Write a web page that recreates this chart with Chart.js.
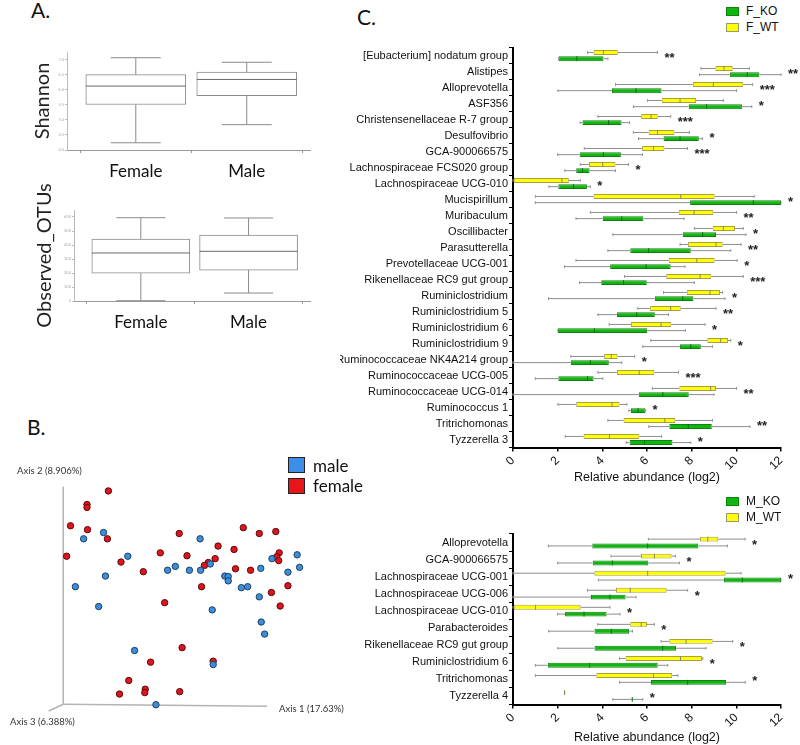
<!DOCTYPE html>
<html>
<head>
<meta charset="utf-8">
<script src="https://cdn.jsdelivr.net/npm/chart.js@4"></script>
<style>
body{margin:0;width:800px;height:745px;position:relative;background:#fff;overflow:hidden;font-family:Lato,sans-serif}
canvas{position:absolute}
.t{position:absolute;white-space:nowrap;line-height:1;color:#111}
.sq{position:absolute;box-sizing:border-box}
.c{font-family:"Liberation Sans",Arial,sans-serif;font-size:12px}
</style>
</head>
<body>
<div class="t" style="left:31px;top:-1px;font-size:21px">A.</div>
<div class="t" style="left:27px;top:416px;font-size:21px">B.</div>
<div class="t" style="left:357px;top:6px;font-size:21px">C.</div>

<canvas id="shannon" width="320" height="145" style="left:0;top:40px"></canvas>
<canvas id="otus" width="320" height="157" style="left:0;top:178px"></canvas>
<canvas id="pcoa" width="340" height="305" style="left:0;top:440px"></canvas>
<canvas id="female" width="460" height="449" style="left:340px;top:40px"></canvas>
<canvas id="male" width="460" height="225" style="left:340px;top:520px"></canvas>

<div class="t" style="left:17px;top:466px;font-size:9.5px;color:#333">Axis 2 (8.906%)</div>
<div class="t" style="left:279px;top:704px;font-size:9.5px;color:#333">Axis 1 (17.63%)</div>
<div class="t" style="left:10px;top:717px;font-size:9.5px;color:#333">Axis 3 (6.388%)</div>
<div class="sq" style="left:288px;top:457px;width:17px;height:16px;background:#3c8ee6;border:1.5px solid #222"></div>
<div class="sq" style="left:288px;top:478px;width:17px;height:16px;background:#e8161b;border:1.5px solid #222"></div>
<div class="t" style="left:313px;top:457px;font-size:17px">male</div>
<div class="t" style="left:313px;top:477px;font-size:17px">female</div>

<div class="sq" style="left:726px;top:7px;width:13px;height:9px;background:#10b510;border:1px solid #0b860b"></div>
<div class="sq" style="left:726px;top:23px;width:13px;height:9px;background:#ffff00;border:1px solid #9a9a6a"></div>
<div class="t c" style="left:746px;top:5px">F_KO</div>
<div class="t c" style="left:746px;top:21px">F_WT</div>
<div class="sq" style="left:726px;top:497px;width:13px;height:9px;background:#10b510;border:1px solid #0b860b"></div>
<div class="sq" style="left:726px;top:513px;width:13px;height:9px;background:#ffff00;border:1px solid #9a9a6a"></div>
<div class="t c" style="left:746px;top:495px">M_KO</div>
<div class="t c" style="left:746px;top:511px">M_WT</div>

<script>
// A. alpha diversity: [whisker min, q1, median, q3, whisker max]
var groups = ['Female', 'Male']
var shannon = [[4.24, 5.51, 6.12, 6.50, 7.06], [4.84, 5.80, 6.34, 6.58, 6.91]]
var otus = [[2, 198, 343, 443, 595], [57, 221, 355, 471, 593]]

// B. PCoA coordinates [axis 1, axis 2]
var male = [[0.083,0.355],[0.042,0.342],[0.133,0.306],[0.087,0.265],[0.025,0.243],[0.073,0.202],
  [0.282,0.342],[0.231,0.285],[0.215,0.277],[0.260,0.277],[0.283,0.277],[0.303,0.290],[0.333,0.265],
  [0.340,0.264],[0.340,0.255],[0.367,0.241],[0.380,0.243],[0.404,0.222],[0.407,0.281],[0.430,0.301],
  [0.463,0.273],[0.482,0.309],[0.487,0.283],[0.307,0.195],[0.408,0.170],[0.415,0.145],[0.147,0.111],
  [0.309,0.082],[0.191,-0.001]]
var female = [[0.093,0.441],[0.049,0.413],[0.049,0.407],[0.015,0.369],[0.050,0.361],[0.091,0.342],
  [0.007,0.306],[0.119,0.294],[0.165,0.274],[0.239,0.353],[0.200,0.313],[0.255,0.307],[0.319,0.327],
  [0.313,0.301],[0.299,0.293],[0.291,0.287],[0.285,0.243],[0.209,0.210],[0.371,0.365],[0.352,0.320],
  [0.355,0.280],[0.386,0.277],[0.404,0.353],[0.438,0.357],[0.445,0.313],[0.440,0.305],[0.444,0.297],
  [0.463,0.245],[0.429,0.231],[0.447,0.203],[0.245,0.117],[0.180,0.087],[0.309,0.089],[0.135,0.049],
  [0.116,0.021],[0.169,0.031],[0.168,0.024],[0.240,0.026]]
var axisEnds = [[0.42, -0.004], [0, 0.45], [-0.03, -0.014]]

// C. relative abundance (log2): [whisker min, q1, median, q3, whisker max]
var fCats = ['[Eubacterium] nodatum group','Alistipes','Alloprevotella','ASF356','Christensenellaceae R-7 group',
  'Desulfovibrio','GCA-900066575','Lachnospiraceae FCS020 group','Lachnospiraceae UCG-010','Mucispirillum',
  'Muribaculum','Oscillibacter','Parasutterella','Prevotellaceae UCG-001','Rikenellaceae RC9 gut group',
  'Ruminiclostridium','Ruminiclostridium 5','Ruminiclostridium 6','Ruminiclostridium 9',
  'Ruminococcaceae NK4A214 group','Ruminococcaceae UCG-005','Ruminococcaceae UCG-014','Ruminococcus 1',
  'Tritrichomonas','Tyzzerella 3']
var fWT = [[3.34,3.61,4.05,4.69,6.47],[8.42,9.06,9.45,9.84,10.58],[4.59,8.05,8.97,10.31,10.73],
  [6.02,6.66,7.48,8.2,9.42],[3.8,5.74,6.18,6.48,7.06],[5.39,6.07,6.47,7.23,7.9],[3.19,5.78,6.29,6.78,7.81],
  [3.01,3.4,4.02,4.59,5.17],[0,0,2.19,2.5,3.01],[1.0,3.61,7.51,9.03,10.8],[3.46,7.42,8.11,8.97,10.01],
  [8.12,8.94,9.42,9.94,10.31],[7.48,7.84,9.09,9.39,10.21],[2.82,6.97,8.23,9.03,10.04],[4.99,6.86,8.38,8.88,10.31],
  [6.74,7.78,8.82,9.27,9.39],[5.59,6.14,7.06,7.51,9.09],[4.31,5.28,6.63,7.09,8.6],[6.17,8.7,9.3,9.63,9.75],
  [2.59,4.08,4.4,4.68,5.45],[3.8,4.65,5.65,6.33,7.41],[6.24,7.45,8.85,9.09,10.01],[2.01,2.83,4.43,4.77,5.1],
  [4.25,4.95,6.8,7.27,8.93],[2.34,3.16,4.32,5.66,6.66]]
var fKO = [[2.04,2.04,2.86,4.05,4.25],[8.35,9.72,10.49,11.03,12],[2.01,4.43,5.51,6.65,10.01],
  [5.39,7.87,8.67,10.25,10.69],[3.01,3.11,4.28,4.86,5.22],[5.62,6.74,7.48,8.32,8.49],[2.0,2.98,4.05,4.83,5.8],
  [2.32,2.83,3.11,3.43,4.59],[1.61,2.03,2.71,3.31,3.46],[1.0,7.93,10.76,12,12],[2.82,4.02,4.87,5.84,7.66],
  [4.47,7.6,8.49,9.09,10.43],[4.25,5.25,6.07,7.96,9.75],[2.31,4.35,5.96,7.06,7.7],[2.98,3.95,4.95,5.99,8.12],
  [1.59,6.35,7.6,8.08,9.49],[3.8,4.65,5.54,6.35,6.96],[2.01,2.01,3.64,6.01,7.72],[5.81,7.48,7.96,8.41,8.93],
  [0,2.59,3.46,4.29,4.87],[1.0,2.03,3.34,3.61,4.02],[0,5.63,6.71,7.87,9.0],[5.19,5.28,5.6,5.93,5.93],
  [6.08,7.0,7.85,8.9,10.61],[5.07,5.22,5.89,7.14,7.96]]
var fSig = ['**','**','***','*','***','*','***','*','*','*','**','*','**','*','***','*','**','*','*','*','***','**','*','**','*']

var mCats = ['Alloprevotella','GCA-900066575','Lachnospiraceae UCG-001','Lachnospiraceae UCG-006',
  'Lachnospiraceae UCG-010','Parabacteroides','Rikenellaceae RC9 gut group','Ruminiclostridium 6',
  'Tritrichomonas','Tyzzerella 4']
var mWT = [[6.06,8.37,8.72,9.19,10.39],[4.39,5.73,6.33,7.1,7.28],[0,3.64,6.03,9.52,10.21],[3.34,4.61,5.25,6.88,7.82],
  [0,0,1.01,3.03,4.34],[3.8,5.25,5.74,6.0,6.33],[6.63,7.0,7.75,8.94,9.84],[4.77,5.04,7.5,8.46,8.5],
  [1.0,3.73,6.29,7.13,7.38],[2.31,2.31,2.31,2.31,2.31]]
var mKO = [[1.58,3.55,6.03,8.3,9.6],[2.0,3.57,4.45,6.06,7.45],[3.82,9.45,10.27,12,12],[0,3.49,4.34,5.04,5.51],
  [2.0,2.33,3.18,4.19,4.79],[1.6,3.65,4.4,5.2,5.35],[2.01,3.65,6.7,7.3,8.64],[1.0,1.56,3.43,6.48,6.93],
  [4.77,6.18,7.82,9.54,10.4],[4.47,5.34,5.34,5.34,5.81]]
var mSig = ['*','*','*','*','*','*','*','*','*','*']

Chart.defaults.font.family = 'Lato'

// whiskers, medians and significance stars on top of the floating bars
var boxPlugin = {
    id: 'boxes',
    afterDatasetsDraw(chart, args, opts){
        var ctx = chart.ctx
        var horiz = chart.options.indexAxis == 'y'
        var vs = horiz ? chart.scales.x : chart.scales.y
        var far = []
        function seg(a, b, c){
            if(horiz){ ctx.moveTo(a, c); ctx.lineTo(b, c) }
            else{ ctx.moveTo(c, a); ctx.lineTo(c, b) }
        }
        function cross(v, c, h){
            if(horiz){ ctx.moveTo(v, c-h); ctx.lineTo(v, c+h) }
            else{ ctx.moveTo(c-h, v); ctx.lineTo(c+h, v) }
        }
        chart.data.datasets.forEach(function(ds, di){
            var meta = chart.getDatasetMeta(di)
            meta.data.forEach(function(el, i){
                var p = ds.stats[i].map(function(v){ return vs.getPixelForValue(v) })
                var c = horiz ? el.y : el.x
                var half = (horiz ? el.height : el.width)/2
                ctx.save()
                ctx.lineWidth = 1
                ctx.strokeStyle = ds.whiskerColor
                ctx.beginPath()
                seg(p[0], p[1], c)
                seg(p[3], p[4], c)
                cross(p[0], c, half*opts.cap)
                cross(p[4], c, half*opts.cap)
                ctx.stroke()
                ctx.strokeStyle = ds.medianColor
                ctx.beginPath()
                cross(p[2], c, half)
                ctx.stroke()
                ctx.restore()
                far[i] = Math.max(far[i] || -1e9, p[4])
            })
        })
        var sig = chart.data.datasets[0].sig
        if(sig){
            ctx.save()
            ctx.fillStyle = '#222'
            ctx.font = 'bold 13px "Liberation Sans"'
            ctx.textAlign = 'left'
            ctx.textBaseline = 'alphabetic'
            sig.forEach(function(s, i){
                ctx.fillText(s, far[i] + opts.gap, chart.scales.y.getPixelForValue(i) + opts.dy)
            })
            ctx.restore()
        }
    }
}

function alphaChart(id, stats, title, yMin, yMax, step, o){
    new Chart(document.getElementById(id), {
        type: 'bar',
        data: {
            datasets: [{
                data: stats.map(function(s, i){ return {x: i+1, y: [s[1], s[3]]} }),
                stats: stats,
                backgroundColor: '#fff',
                borderColor: '#8a8a8a',
                borderWidth: 1,
                borderSkipped: false,
                barThickness: o.barW,
                whiskerColor: '#8a8a8a',
                medianColor: '#6a6a6a'
            }]
        },
        options: {
            responsive: false,
            animation: false,
            layout: {padding: {top: o.top, right: 10}},
            plugins: {legend: {display: false}, tooltip: {enabled: false}, boxes: {cap: 0.5}},
            scales: {
                x: {
                    type: 'linear', offset: false, min: 0.38, max: 2.57,
                    afterBuildTicks: function(s){ s.ticks = [{value: 1}, {value: 2}] },
                    ticks: {callback: function(v){ return groups[v-1] }, font: {size: 17}, color: '#111', padding: 8, maxRotation: 0},
                    grid: {drawOnChartArea: false, tickLength: 3, color: '#999'},
                    border: {color: '#999'},
                    afterFit: function(s){ s.height = o.xh }
                },
                y: {
                    min: yMin, max: yMax,
                    ticks: {stepSize: step, font: {size: 4}, color: '#aaa', padding: 1},
                    grid: {drawOnChartArea: false, tickLength: 2, color: '#bbb'},
                    border: {color: '#bbb'},
                    title: {display: true, text: title, font: {size: 20}, color: '#222', padding: {top: o.titlePad, bottom: 0}},
                    afterFit: function(s){ s.width = o.axisW }
                }
            }
        },
        plugins: [boxPlugin]
    })
}
alphaChart('shannon', shannon, 'Shannon', 4, 7.25, 0.25, {top: 12, xh: 35, axisW: 67, titlePad: 31, barW: 100})
alphaChart('otus', otus, 'Observed_OTUs', 0, 650, 50, {top: 32, xh: 34, axisW: 74, titlePad: 33, barW: 98})

// B. PCoA
var pcoaAxes = {
    id: 'pcoaAxes',
    beforeDatasetsDraw(chart){
        var ctx = chart.ctx, x = chart.scales.x, y = chart.scales.y
        var ox = x.getPixelForValue(0), oy = y.getPixelForValue(0)
        ctx.save()
        ctx.strokeStyle = '#b4b4b4'
        ctx.lineWidth = 1.5
        axisEnds.forEach(function(e){
            ctx.beginPath()
            ctx.moveTo(ox, oy)
            ctx.lineTo(x.getPixelForValue(e[0]), y.getPixelForValue(e[1]))
            ctx.stroke()
        })
        ctx.restore()
    }
}
function pts(a){ return a.map(function(p){ return {x: p[0], y: p[1]} }) }
new Chart(document.getElementById('pcoa'), {
    type: 'scatter',
    data: {
        datasets: [
            {label: 'male', data: pts(male), backgroundColor: '#3b8fd9', borderColor: '#1d3f66', borderWidth: 1, pointRadius: 3.2},
            {label: 'female', data: pts(female), backgroundColor: '#e0141c', borderColor: '#5a0a0a', borderWidth: 1, pointRadius: 3.2}
        ]
    },
    options: {
        responsive: false,
        animation: false,
        layout: {padding: 0},
        plugins: {legend: {display: false}, tooltip: {enabled: false}},
        scales: {
            x: {type: 'linear', display: false, min: -0.12, max: 0.56},
            y: {type: 'linear', display: false, min: -0.074, max: 0.536}
        }
    },
    plugins: [pcoaAxes]
})

// C. abundance box plots
function abundChart(id, cats, wt, ko, sig, o){
    var sets = [
        {data: wt.map(function(s){ return [s[1], s[3]] }), stats: wt, sig: sig,
         backgroundColor: '#ffff00', borderColor: '#a6a046', medianColor: '#8c8a55'},
        {data: ko.map(function(s){ return [s[1], s[3]] }), stats: ko,
         backgroundColor: '#12b312', borderColor: '#0b860b', medianColor: '#087008'}
    ]
    sets.forEach(function(d){
        d.borderWidth = 1
        d.borderSkipped = false
        d.whiskerColor = '#8e8e8e'
        d.categoryPercentage = o.cat
        d.barPercentage = o.bar
    })
    new Chart(document.getElementById(id), {
        type: 'bar',
        data: {labels: cats, datasets: sets},
        options: {
            indexAxis: 'y',
            responsive: false,
            animation: false,
            layout: {padding: {top: o.top, right: 19}},
            plugins: {legend: {display: false}, tooltip: {enabled: false}, boxes: {cap: 0.55, gap: 7, dy: 6}},
            scales: {
                x: {
                    min: 0, max: 12,
                    ticks: {stepSize: 2, minRotation: 45, maxRotation: 45, font: {size: 12, family: '"Liberation Sans"'}, color: '#111', padding: 2},
                    grid: {drawOnChartArea: false, tickLength: 4, color: '#000', lineWidth: 1.5},
                    border: {color: '#000', width: 2},
                    title: {display: true, text: 'Relative abundance (log2)', font: {size: 12.5, family: '"Liberation Sans"'}, color: '#111', padding: {top: 0, bottom: o.titlePad}},
                    afterFit: function(s){ s.height = o.xh }
                },
                y: {
                    ticks: {autoSkip: false, font: {size: 11, family: '"Liberation Sans"'}, color: '#111', padding: 1},
                    grid: {drawOnChartArea: false, tickLength: 4, color: '#000'},
                    border: {color: '#000', width: 2},
                    afterFit: function(s){ s.width = 173 }
                }
            }
        },
        plugins: [boxPlugin]
    })
}
abundChart('female', fCats, fWT, fKO, fSig, {top: 6, xh: 41.5, titlePad: 4, cat: 0.77, bar: 0.8})
abundChart('male', mCats, mWT, mKO, mSig, {top: 14, xh: 40.5, titlePad: 0, cat: 0.8, bar: 0.72})
</script>
</body>
</html>
